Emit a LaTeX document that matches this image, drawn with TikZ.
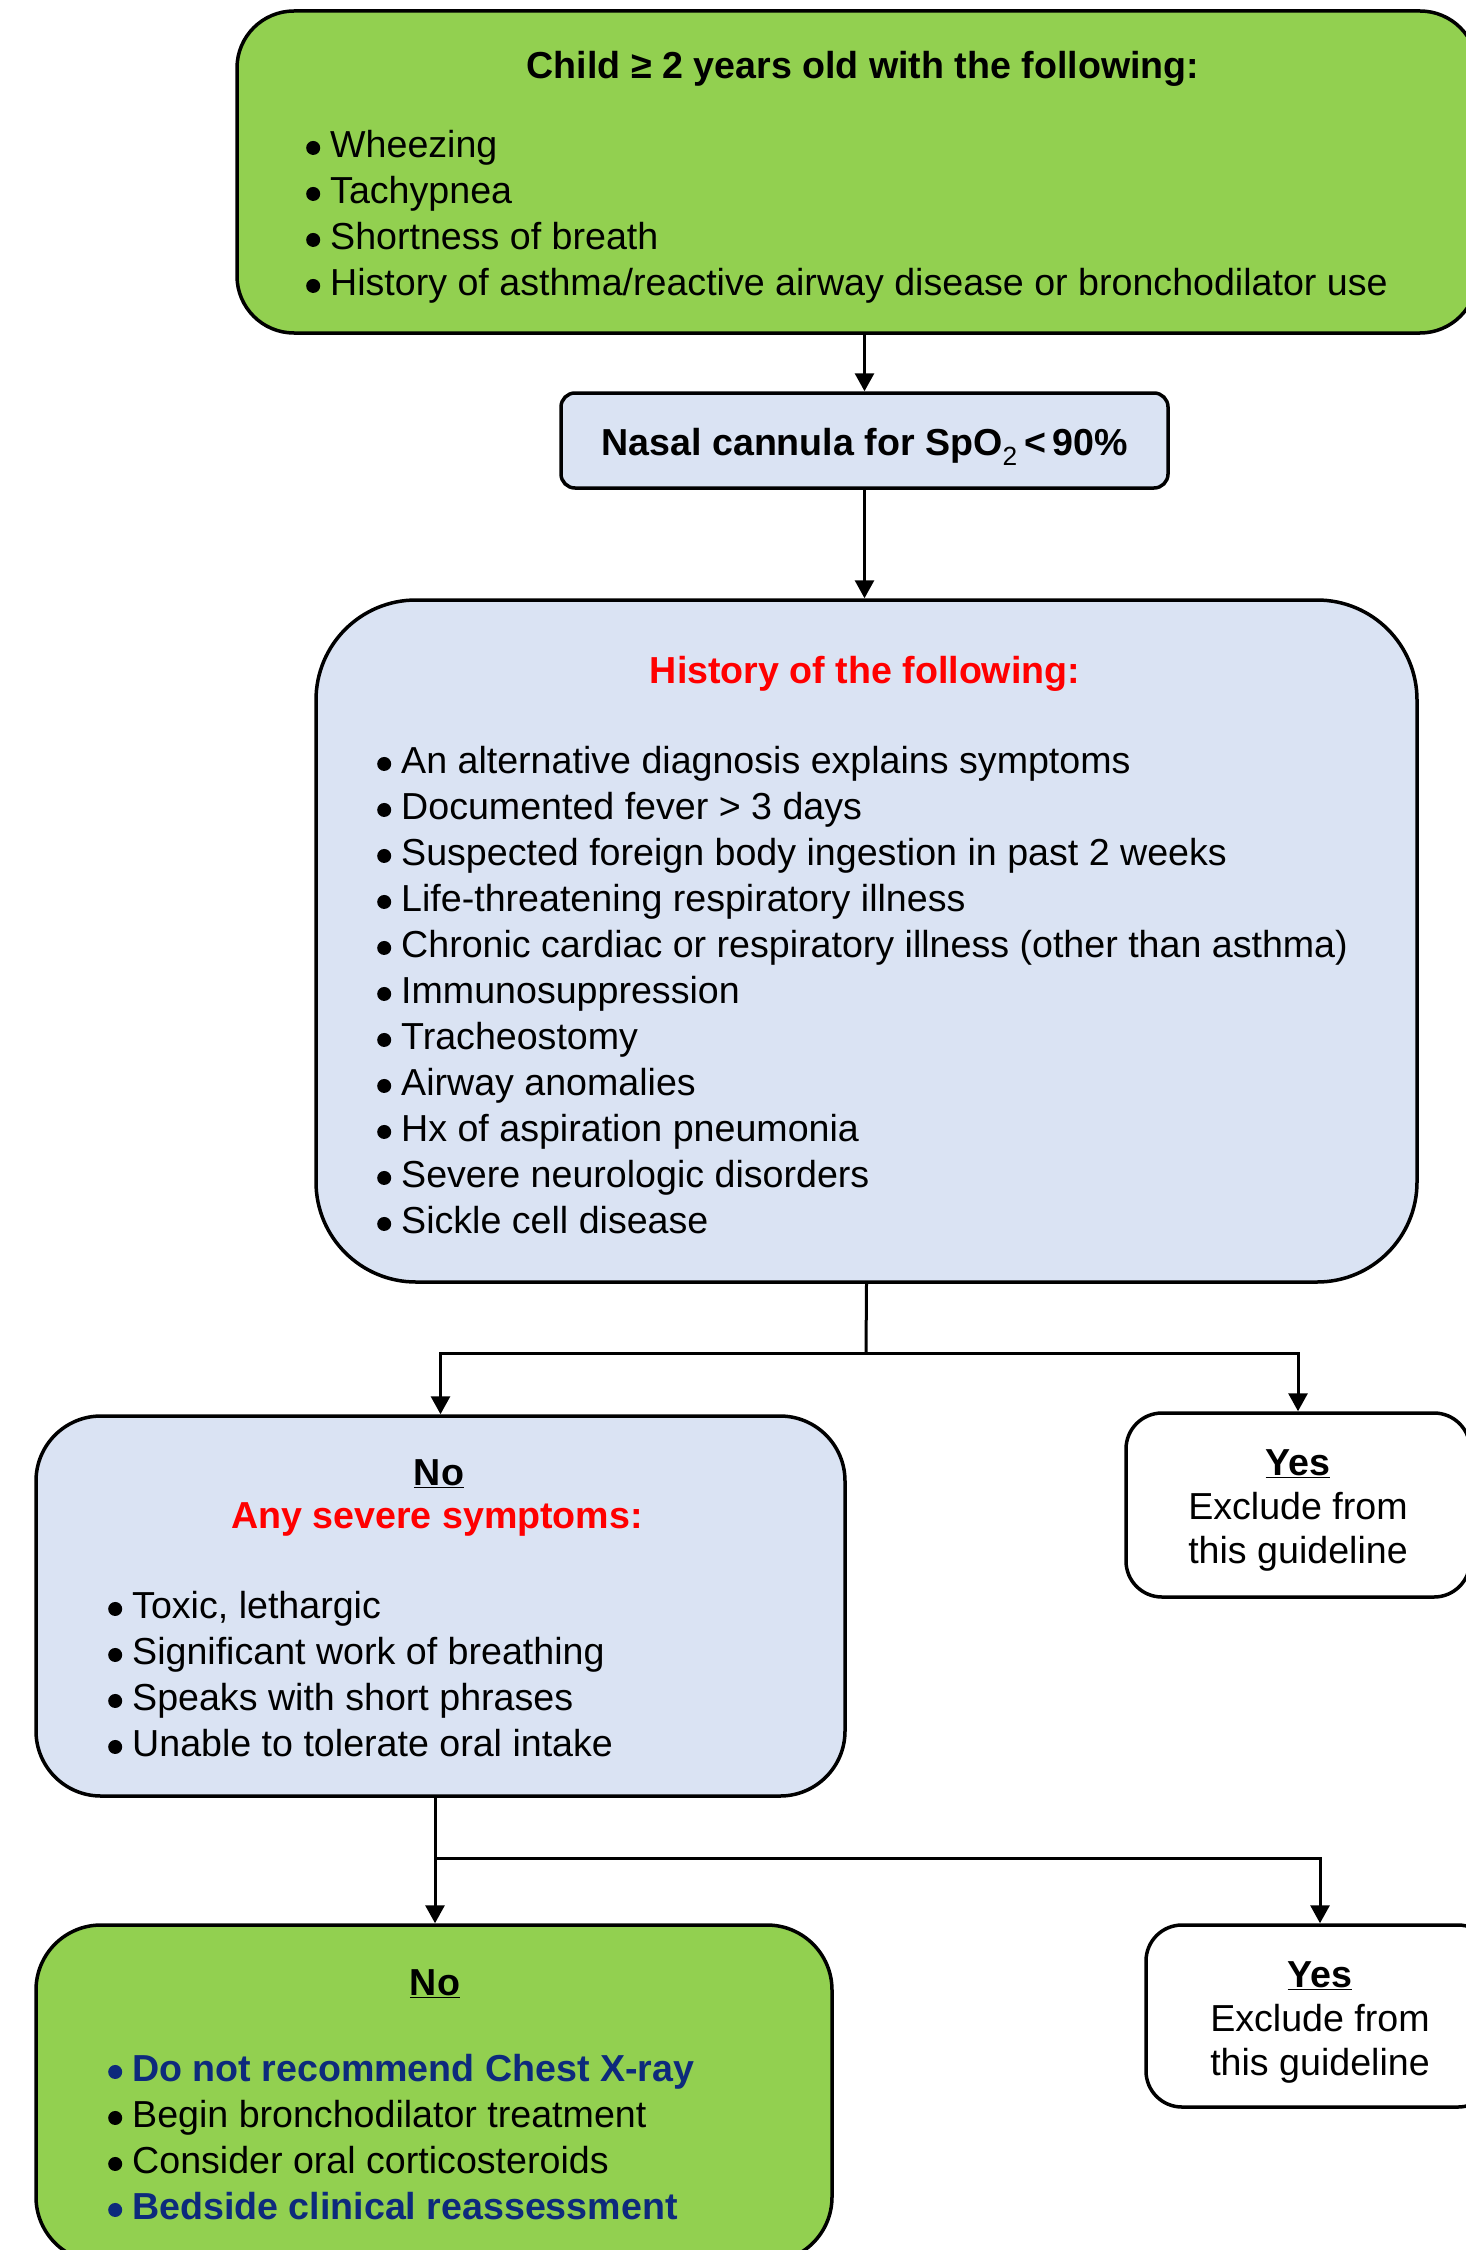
\documentclass[tikz,border=0pt]{standalone}
\usepackage{fontspec}
\setmainfont{Liberation Sans}
\usetikzlibrary{arrows.meta}

\definecolor{leafgreen}{HTML}{92D050}
\definecolor{paleblue}{HTML}{DAE3F3}
\definecolor{navytext}{HTML}{0D2A7C}
\newcommand{\bul}{\tikz[baseline=-9.5pt]\fill (0,0) circle (7pt);\hspace{10pt}}

\begin{document}
\begin{tikzpicture}[x=1pt, y=-1pt,
        every node/.style={font=\fontsize{37.6}{46}\selectfont},
        box/.style={draw, line width=3.5pt, inner sep=0pt},
        list/.style={align=left, inner sep=0pt, anchor=north west},
        head/.style={font=\fontsize{37.6}{46}\selectfont\bfseries, inner sep=0pt},
        yestext/.style={align=center, inner sep=0pt, font=\fontsize{37.6}{44}\selectfont},
        link/.style={line width=3pt, -{Triangle[length=18pt, width=19pt]}}]
        \useasboundingbox (0,0) rectangle (1466,2250);

        \node[box, fill=leafgreen, rounded corners=57pt, minimum width=1240pt, minimum height=322pt] (start) at (857,172) {};
        \node[box, fill=paleblue, rounded corners=14pt, minimum width=607pt, minimum height=95pt] (cannula) at (864.5,440.5) {};
        \node[box, fill=paleblue, rounded corners=100pt, minimum width=1101pt, minimum height=682pt] (history) at (866.5,941) {};
        \node[box, fill=paleblue, rounded corners=65pt, minimum width=809pt, minimum height=380pt] (noA) at (440.5,1606) {};
        \node[box, rounded corners=36pt, minimum width=344pt, minimum height=184pt] (yesA) at (1298,1505) {};
        \node[box, fill=leafgreen, rounded corners=65pt, minimum width=796pt, minimum height=337pt] (noB) at (434,2093.5) {};
        \node[box, rounded corners=36pt, minimum width=348pt, minimum height=182pt] (yesB) at (1320,2016) {};

        % texts inside the boxes
        \node[head] (startTitle) at (863,69) {Child ≥ 2 years old with the following:};
        \node[list] (startList) at (306,130) {\bul Wheezing\\\bul Tachypnea\\\bul Shortness of breath\\\bul History of asthma/reactive airway disease or bronchodilator use};
        \node[head] (cannulaText) at (864.5,447) {Nasal cannula for SpO\textsubscript{\mdseries 2}\,<\,90\%};
        \node[head, text=red] (historyTitle) at (865,674) {History of the following:};
        \node[list] (historyList) at (377,746) {\bul An alternative diagnosis explains symptoms\\\bul Documented fever > 3 days\\\bul Suspected foreign body ingestion in past 2 weeks\\\bul Life-threatening respiratory illness\\\bul Chronic cardiac or respiratory illness (other than asthma)\\\bul Immunosuppression\\\bul Tracheostomy\\\bul Airway anomalies\\\bul Hx of aspiration pneumonia\\\bul Severe neurologic disorders\\\bul Sickle cell disease};
        \node[head] (noALabel) at (439,1474) {\underline{No}};
        \node[head, text=red] (noATitle) at (437,1519) {Any severe symptoms:};
        \node[list] (noAList) at (108,1591) {\bul Toxic, lethargic\\\bul Significant work of breathing\\\bul Speaks with short phrases\\\bul Unable to tolerate oral intake};
        \node[yestext] (yesAText) at (1298,1510) {\underline{\textbf{Yes}}\\Exclude from\\this guideline};
        \node[head] (noBLabel) at (435,1984) {\underline{No}};
        \node[list] (noBList) at (108,2054) {{\color{navytext}\bfseries\bul Do not recommend Chest X-ray}\\\bul Begin bronchodilator treatment\\\bul Consider oral corticosteroids\\{\color{navytext}\bfseries\bul Bedside clinical reassessment}};
        \node[yestext] (yesBText) at (1320,2022) {\underline{\textbf{Yes}}\\Exclude from\\this guideline};

        \coordinate (fork1) at (866,1353);
        \coordinate (fork2) at (435,1858);

        \draw[link] (cannula.north |- start.south) -- (cannula.north);
        \draw[link] (cannula.south) -- (cannula.south |- history.north);
        \draw[line width=3pt] (history.south) -- (fork1);
        \draw[link] (fork1) -| (noA.north);
        \draw[link] (fork1) -| (yesA.north);
        \draw[line width=3pt] (fork2 |- noA.south) -- (fork2);
        \draw[link] (fork2) -- (fork2 |- noB.north);
        \draw[link] (fork2) -| (yesB.north);
    \end{tikzpicture}
\end{document}
